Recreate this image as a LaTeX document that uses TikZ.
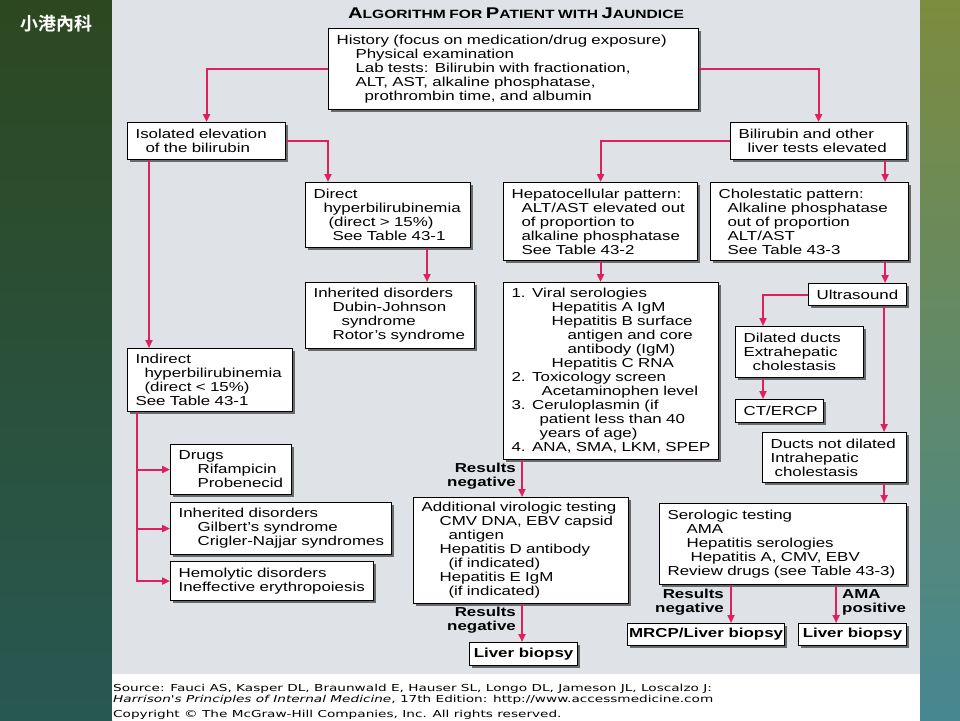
\documentclass[tikz,border=0pt]{standalone}
\usepackage{fontspec}
\setmainfont{Liberation Sans}[FakeStretch=1.3]
\newfontfamily\cjkfont{Noto Sans CJK TC Bold}
\newfontfamily\srcfont{DejaVu Sans}[FakeStretch=1.42]
\usetikzlibrary{arrows.meta,shadows}

\definecolor{panelgray}{RGB}{223,227,232}
\definecolor{flowred}{RGB}{222,32,92}
\definecolor{leftgreen}{RGB}{44,72,32}
\definecolor{leftmid}{RGB}{74,108,62}
\definecolor{leftteal}{RGB}{40,88,82}
\definecolor{rightolive}{RGB}{125,140,62}
\definecolor{rightyellow}{RGB}{192,194,122}
\definecolor{rightteal}{RGB}{70,135,145}

\newcommand\boxfont{\fontsize{13pt}{14pt}\selectfont}
\newcommand\ind[1]{\hspace*{#1pt}}
\newcommand\capsc[2]{{\fontsize{15.5pt}{15pt}\selectfont #1}{\fontsize{12pt}{15pt}\selectfont #2}}

\begin{document}
\begin{tikzpicture}[x=1pt,y=-1pt,
   boxbase/.style={draw, line width=1.1pt, fill=white, anchor=north west,
      drop shadow={shadow xshift=2pt, shadow yshift=-2pt, fill=black!70, opacity=.8},
      inner sep=0pt, font=\boxfont},
   box/.style={boxbase, align=left,
      execute at begin node={\leftskip=8pt\rightskip=-12pt plus 1fil}},
   resultbox/.style={boxbase, align=center, font=\boxfont\bfseries},
   note/.style={font=\boxfont\bfseries, align=right, inner sep=0pt},
   src/.style={font=\srcfont\fontsize{9.6pt}{10pt}\selectfont, inner sep=0pt, anchor=west},
   flow/.style={draw=flowred, line width=1.9pt, -{Triangle[length=8pt,width=7pt]}}]

\useasboundingbox (0,0) rectangle (960,720);
\shade[top color=leftgreen, middle color=leftmid, bottom color=leftteal] (0,0) rectangle (112,720);
\shade[top color=rightolive, middle color=rightyellow, bottom color=rightteal] (920,0) rectangle (960,720);
\fill[panelgray] (112,0) rectangle (920,674);
\fill[white] (112,674) rectangle (920,720);

\node[text=white, font=\cjkfont\fontsize{18pt}{18pt}\selectfont] (clinic) at (56,24) {小港內科};
\node[font=\bfseries, anchor=base] (title) at (516,18.5)
   {\capsc{A}{LGORITHM} \capsc{}{FOR} \capsc{P}{ATIENT} \capsc{}{WITH} \capsc{J}{AUNDICE}};

% top of the tree
\node[box, text width=370pt, minimum height=81pt] (history) at (328,28)
   {History (focus on medication/drug exposure)\\\ind{19}Physical examination\\
    \ind{19}Lab tests: Bilirubin with fractionation,\\\ind{19}ALT, AST, alkaline phosphatase,\\
    \ind{28}prothrombin time, and albumin};
\node[box, text width=158pt, minimum height=37pt] (isolated) at (127,122)
   {Isolated elevation\\\ind{10}of the bilirubin};
\node[box, text width=176pt, minimum height=37pt] (bilitests) at (730,122)
   {Bilirubin and other\\\ind{9}liver tests elevated};

% isolated bilirubin
\node[box, text width=165pt, minimum height=65pt] (direct) at (305,182)
   {Direct\\\ind{10}hyperbilirubinemia\\\ind{15}(direct > 15\%)\\\ind{19}See Table 43-1};
\node[box, text width=169pt, minimum height=66pt] (inhdirect) at (305,282)
   {Inherited disorders\\\ind{19}Dubin-Johnson\\\ind{28}syndrome\\\ind{19}Rotor's syndrome};
\node[box, text width=165pt, minimum height=63pt] (indirect) at (127,348)
   {Indirect\\\ind{9}hyperbilirubinemia\\\ind{9}(direct < 15\%)\\See Table 43-1};
\node[box, text width=121pt, minimum height=50pt] (drugs) at (170,444)
   {Drugs\\\ind{19}Rifampicin\\\ind{19}Probenecid};
\node[box, text width=221pt, minimum height=52pt] (inhindirect) at (170,502)
   {Inherited disorders\\\ind{19}Gilbert's syndrome\\\ind{19}Crigler-Najjar syndromes};
\node[box, text width=203pt, minimum height=39pt] (hemolytic) at (170,561)
   {Hemolytic disorders\\Ineffective erythropoiesis};

% other liver tests
\node[box, text width=194pt, minimum height=78pt] (hepato) at (503,182)
   {Hepatocellular pattern:\\\ind{10}ALT/AST elevated out\\\ind{10}of proportion to\\
    \ind{10}alkaline phosphatase\\\ind{10}See Table 43-2};
\node[box, text width=198pt, minimum height=78pt] (cholest) at (710,182)
   {Cholestatic pattern:\\\ind{9}Alkaline phosphatase\\\ind{9}out of proportion\\
    \ind{9}ALT/AST\\\ind{9}See Table 43-3};
\node[box, text width=215pt, minimum height=177pt] (viral) at (503,282)
   {1. Viral serologies\\\ind{40}Hepatitis A IgM\\\ind{40}Hepatitis B surface\\
    \ind{56}antigen and core\\\ind{56}antibody (IgM)\\\ind{40}Hepatitis C RNA\\
    2. Toxicology screen\\\ind{30}Acetaminophen level\\3. Ceruloplasmin (if\\
    \ind{28}patient less than 40\\\ind{28}years of age)\\4. ANA, SMA, LKM, SPEP};
\node[box, text width=215pt, minimum height=106pt] (addvir) at (413,497)
   {Additional virologic testing\\\ind{18}CMV DNA, EBV capsid\\\ind{27}antigen\\
    \ind{18}Hepatitis D antibody\\\ind{27}(if indicated)\\\ind{18}Hepatitis E IgM\\
    \ind{27}(if indicated)};
\node[resultbox, minimum width=108pt, minimum height=23pt] (biopsya) at (469,642) {Liver biopsy};

\node[box, text width=98pt, minimum height=22pt] (ultrasound) at (808,283) {Ultrasound};
\node[box, text width=128pt, minimum height=51pt] (dilated) at (735,326)
   {Dilated ducts\\Extrahepatic\\\ind{9}cholestasis};
\node[box, text width=88pt, minimum height=23pt] (ctercp) at (735,399) {CT/ERCP};
\node[box, text width=144pt, minimum height=50pt] (notdilated) at (762,432)
   {Ducts not dilated\\Intrahepatic\\\ind{4}cholestasis};
\node[box, text width=247pt, minimum height=81pt] (serologic) at (659,503)
   {Serologic testing\\\ind{19}AMA\\\ind{19}Hepatitis serologies\\
    \ind{23}Hepatitis A, CMV, EBV\\Review drugs (see Table 43-3)};
\node[resultbox, minimum width=157pt, minimum height=22pt] (mrcp) at (627,623) {MRCP/Liver biopsy};
\node[resultbox, minimum width=108pt, minimum height=22pt] (biopsyb) at (798,623) {Liver biopsy};

% labels on the arrows
\node[note, anchor=east] (negviral) at (516,476) {Results\\negative};
\node[note, anchor=east] (negaddvir) at (516,620) {Results\\negative};
\node[note, anchor=east] (negsero) at (724,602) {Results\\negative};
\node[note, anchor=west, align=left] (amapos) at (842,602) {AMA\\positive};

% arrows
\draw[flow] (history.west) -| (isolated.north);
\draw[flow] (history.east) -| (bilitests.north);
\coordinate (dirtop) at ([xshift=23pt]direct.north west);
\draw[flow] (isolated.east) -| (dirtop);
\coordinate (isoldrop) at ([xshift=22pt]isolated.south west);
\draw[flow] (isoldrop) -- (isoldrop |- indirect.north);
\coordinate (dirdrop) at ([xshift=122pt]direct.south west);
\draw[flow] (dirdrop) -- (dirdrop |- inhdirect.north);
\coordinate (indtrunk) at ([xshift=10pt]indirect.south west);
\draw[flow] (indtrunk) |- (hemolytic.west);
\draw[flow] (indtrunk |- drugs.west) -- (drugs.west);
\draw[flow] (indtrunk |- inhindirect.west) -- (inhindirect.west);

\draw[flow] (bilitests.west) -| (hepato.north);
\coordinate (bilidrop) at ([xshift=-22pt]bilitests.south east);
\draw[flow] (bilidrop) -- (bilidrop |- cholest.north);
\draw[flow] (hepato.south) -- (hepato.south |- viral.north);
\coordinate (viraldrop) at ([xshift=19pt]viral.south west);
\draw[flow] (viraldrop) -- (viraldrop |- addvir.north);
\draw[flow] (viraldrop |- addvir.south) -- (viraldrop |- biopsya.north);

\coordinate (choldrop) at ([xshift=-24pt]cholest.south east);
\draw[flow] (choldrop) -- (choldrop |- ultrasound.north);
\coordinate (diltop) at ([xshift=28pt]dilated.north west);
\draw[flow] (ultrasound.west) -| (diltop);
\draw[flow] (diltop |- dilated.south) -- (diltop |- ctercp.north);
\coordinate (usdrop) at ([xshift=-23pt]ultrasound.south east);
\draw[flow] (usdrop) -- (usdrop |- notdilated.north);
\draw[flow] (usdrop |- notdilated.south) -- (usdrop |- serologic.north);
\coordinate (serodropa) at ([xshift=72pt]serologic.south west);
\coordinate (serodropb) at ([xshift=-71pt]serologic.south east);
\draw[flow] (serodropa) -- (serodropa |- mrcp.north);
\draw[flow] (serodropb) -- (serodropb |- biopsyb.north);

% source lines
\node[src] (srcline) at (113,689)
   {Source: Fauci AS, Kasper DL, Braunwald E, Hauser SL, Longo DL, Jameson JL, Loscalzo J:};
\node[src] (srcbook) at (113,700)
   {\textit{Harrison's Principles of Internal Medicine}, 17th Edition: http://www.accessmedicine.com};
\node[src] (srccopy) at (113,715)
   {Copyright © The McGraw-Hill Companies, Inc. All rights reserved.};

\end{tikzpicture}
\end{document}
